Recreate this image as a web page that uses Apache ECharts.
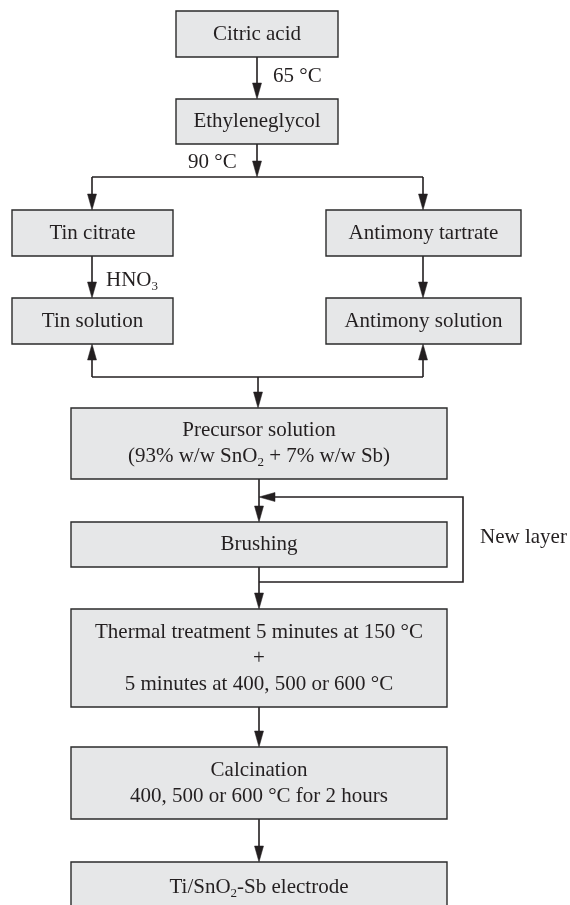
<!DOCTYPE html>
<html>
<head>
<meta charset="utf-8">
<script src="https://cdn.jsdelivr.net/npm/echarts@6/dist/echarts.min.js"></script>
<style>html,body{margin:0;padding:0;background:#fff}#c{width:570px;height:905px}</style>
</head>
<body>
<div id="c"></div>
<script>
// ---- content ----
const boxLabels = [
  'Citric acid',
  'Ethyleneglycol',
  'Tin citrate',
  'Antimony tartrate',
  'Tin solution',
  'Antimony solution',
  'Precursor solution\n(93% w/w SnO{sub|2} + 7% w/w Sb)',
  'Brushing',
  'Thermal treatment 5 minutes at 150 °C\n+\n5 minutes at 400, 500 or 600 °C',
  'Calcination\n400, 500 or 600 °C for 2 hours',
  'Ti/SnO{sub|2}-Sb electrode'
];
const edgeLabels = ['65 °C', '90 °C', 'HNO{sub|3}', 'New layer'];

// ---- layout (diagram units = page pixels) ----
const boxLayout = [
  [176, 11, 338, 57],
  [176, 99, 338, 144],
  [12, 210, 173, 256],
  [326, 210, 521, 256],
  [12, 298, 173, 344],
  [326, 298, 521, 344],
  [71, 408, 447, 479],
  [71, 522, 447, 567],
  [71, 609, 447, 707],
  [71, 747, 447, 819],
  [71, 862, 447, 912]
];
const edgePaths = [
  [[257, 57], [257, 99]],
  [[257, 144], [257, 177]],
  [[92, 177], [423, 177]],
  [[92, 177], [92, 210]],
  [[423, 177], [423, 210]],
  [[92, 256], [92, 298]],
  [[423, 256], [423, 298]],
  [[92, 377], [423, 377]],
  [[92, 377], [92, 344]],
  [[423, 377], [423, 344]],
  [[258, 377], [258, 408]],
  [[259, 479], [259, 522]],
  [[259, 582], [463, 582], [463, 497], [259, 497]],
  [[259, 567], [259, 609]],
  [[259, 707], [259, 747]],
  [[259, 819], [259, 862]]
];
const edgeArrow = [1, 1, 0, 1, 1, 1, 1, 0, 1, 1, 1, 1, 1, 1, 1, 1];
const labelLayout = [[273, 76], [188, 162], [106, 280], [480, 537]];

const FONT = 'Liberation Serif, Times New Roman, serif';
const INK = '#231f20';
const rich = {
  sub: { fontSize: 13, fontFamily: FONT, fill: INK, color: INK, verticalAlign: 'bottom', lineHeight: 13 }
};

const chart = echarts.init(document.getElementById('c'), null, { renderer: 'canvas' });

chart.setOption({
  animation: false,
  backgroundColor: '#ffffff',
  grid: { left: 0, right: 0, top: 0, bottom: 0 },
  xAxis: { type: 'value', min: 0, max: 570, show: false },
  yAxis: { type: 'value', min: 0, max: 905, inverse: true, show: false },
  series: [
    {
      type: 'custom',
      coordinateSystem: 'cartesian2d',
      clip: false,
      data: edgePaths.map(p => [p[0][0], p[0][1]]),
      renderItem: function (params, api) {
        const path = edgePaths[params.dataIndex];
        const pts = path.map(p => api.coord(p));
        const children = [];
        const arrow = edgeArrow[params.dataIndex];
        const L = 16, W = 4.5;
        let linePts = pts.slice();
        if (arrow) {
          const a = pts[pts.length - 2], b = pts[pts.length - 1];
          const dx = b[0] - a[0], dy = b[1] - a[1];
          const len = Math.sqrt(dx * dx + dy * dy);
          const ux = dx / len, uy = dy / len;
          const base = [b[0] - ux * L, b[1] - uy * L];
          linePts[linePts.length - 1] = [b[0] - ux * (L - 2), b[1] - uy * (L - 2)];
          children.push({
            type: 'polygon',
            shape: { points: [b, [base[0] - uy * W, base[1] + ux * W], [base[0] + uy * W, base[1] - ux * W]] },
            style: { fill: INK, stroke: INK, lineWidth: 0.5 }
          });
        }
        children.unshift({
          type: 'polyline',
          shape: { points: linePts },
          style: { stroke: INK, lineWidth: 1.6, fill: null }
        });
        return { type: 'group', children: children };
      },
      z: 2
    },
    {
      type: 'custom',
      coordinateSystem: 'cartesian2d',
      clip: false,
      data: boxLayout.map(b => [b[0], b[1]]),
      renderItem: function (params, api) {
        const b = boxLayout[params.dataIndex];
        const p0 = api.coord([b[0], b[1]]);
        const p1 = api.coord([b[2], b[3]]);
        return {
          type: 'rect',
          shape: { x: p0[0], y: p0[1], width: p1[0] - p0[0], height: p1[1] - p0[1] },
          style: { fill: '#e6e7e8', stroke: '#2b2b2b', lineWidth: 1.4 },
          textContent: {
            style: {
              text: boxLabels[params.dataIndex],
              fill: INK,
              fontSize: 21,
              fontFamily: FONT,
              lineHeight: 26,
              align: 'center',
              rich: rich
            }
          },
          textConfig: { position: 'inside' }
        };
      },
      z: 3
    },
    {
      type: 'custom',
      coordinateSystem: 'cartesian2d',
      clip: false,
      data: labelLayout.map(p => [p[0], p[1]]),
      renderItem: function (params, api) {
        const p = api.coord(labelLayout[params.dataIndex]);
        return {
          type: 'text',
          x: p[0],
          y: p[1],
          style: {
            text: edgeLabels[params.dataIndex],
            fill: INK,
            fontSize: 21,
            fontFamily: FONT,
            lineHeight: 26,
            align: 'left',
            verticalAlign: 'middle',
            rich: rich
          }
        };
      },
      z: 4
    }
  ]
});
</script>
</body>
</html>
